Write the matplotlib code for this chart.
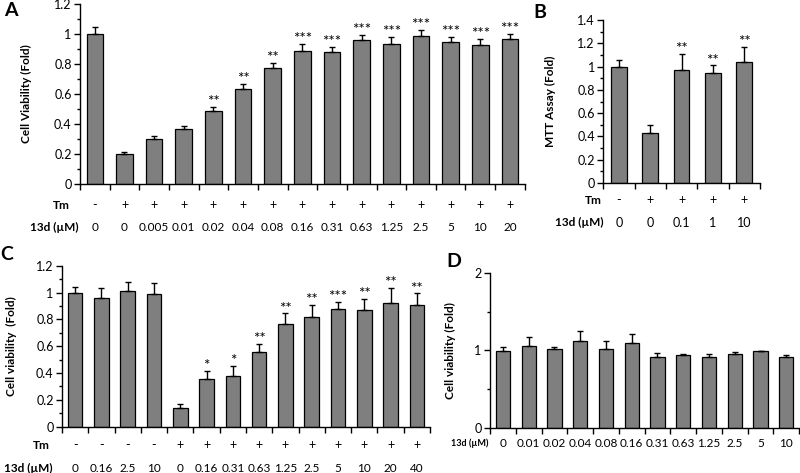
import matplotlib
matplotlib.use("Agg")
import matplotlib.pyplot as plt
from matplotlib.ticker import MultipleLocator, FixedLocator, NullFormatter

plt.rcParams["font.family"] = ["Lato", "DejaVu Sans"]

# panel A
a_tm = ["-"] + ["+"] * 14
a_dose = ["0", "0", "0.005", "0.01", "0.02", "0.04", "0.08", "0.16", "0.31",
          "0.63", "1.25", "2.5", "5", "10", "20"]
a_mean = [1.0, 0.20, 0.30, 0.37, 0.485, 0.635, 0.775, 0.885, 0.88, 0.958,
          0.934, 0.988, 0.945, 0.929, 0.965]
a_err = [0.044, 0.011, 0.017, 0.018, 0.031, 0.031, 0.033, 0.049, 0.031, 0.038,
         0.044, 0.037, 0.037, 0.038, 0.036]
a_sig = ["", "", "", "", "**", "**", "**", "***", "***", "***", "***", "***",
         "***", "***", "***"]

# panel B
b_tm = ["-", "+", "+", "+", "+"]
b_dose = ["0", "0", "0.1", "1", "10"]
b_mean = [1.0, 0.43, 0.97, 0.947, 1.04]
b_err = [0.057, 0.071, 0.135, 0.063, 0.125]
b_sig = ["", "", "**", "**", "**"]

# panel C
c_tm = ["-"] * 4 + ["+"] * 10
c_dose = ["0", "0.16", "2.5", "10", "0", "0.16", "0.31", "0.63", "1.25", "2.5",
          "5", "10", "20", "40"]
c_mean = [1.0, 0.96, 1.012, 0.99, 0.136, 0.355, 0.375, 0.558, 0.762, 0.816,
          0.878, 0.868, 0.92, 0.906]
c_err = [0.042, 0.07, 0.068, 0.08, 0.03, 0.062, 0.079, 0.06, 0.082, 0.09,
         0.052, 0.085, 0.115, 0.087]
c_sig = ["", "", "", "", "", "*", "*", "**", "**", "**", "***", "**", "**", "**"]

# panel D
d_dose = ["0", "0.01", "0.02", "0.04", "0.08", "0.16", "0.31", "0.63", "1.25",
          "2.5", "5", "10"]
d_mean = [0.998, 1.062, 1.024, 1.122, 1.024, 1.096, 0.921, 0.934, 0.921,
          0.955, 0.99, 0.912]
d_err = [0.042, 0.116, 0.021, 0.128, 0.098, 0.12, 0.047, 0.021, 0.034,
         0.021, 0.0, 0.022]

BAR_COLOR = "#7f7f7f"
FS = 9


def style_axis(ax, n, ymax, major, minor, ylabel, label_x):
    ax.set_xlim(-0.5, n - 0.5)
    ax.set_ylim(0, ymax)
    for s in ["top", "right"]:
        ax.spines[s].set_visible(False)
    for s in ["left", "bottom"]:
        ax.spines[s].set_linewidth(1.0)
    ax.yaxis.set_major_locator(MultipleLocator(major))
    ax.yaxis.set_minor_locator(MultipleLocator(minor))
    ax.yaxis.set_minor_formatter(NullFormatter())
    ax.tick_params(axis="y", which="major", direction="out", length=4,
                   width=1, labelsize=FS, pad=2)
    ax.tick_params(axis="y", which="minor", direction="out", length=2.5,
                   width=1)
    ax.xaxis.set_major_locator(FixedLocator([i - 0.5 for i in range(n + 1)]))
    ax.xaxis.set_major_formatter(NullFormatter())
    ax.tick_params(axis="x", which="major", direction="out", length=4, width=1)
    ax.set_ylabel(ylabel, fontsize=8.5, fontweight="bold")
    ax.yaxis.set_label_coords(label_x, 0.5)


def draw_bars(ax, mean, err, sig=None, width=0.55, star_off=-1.5):
    x = list(range(len(mean)))
    ax.bar(x, mean, width=width, color=BAR_COLOR, edgecolor="black",
           linewidth=0.9, zorder=2)
    ax.errorbar(x, mean, yerr=[[0] * len(err), err], fmt="none",
                ecolor="black", elinewidth=1, capsize=2.5, capthick=1,
                zorder=3)
    if sig:
        for i, s in enumerate(sig):
            if s:
                ax.annotate(s, (i, mean[i] + err[i]), xytext=(0, star_off),
                            textcoords="offset points", ha="center",
                            va="bottom", fontsize=11)


def draw_row(ax, labels, y, title, title_x, title_fs=8.5, fs=FS):
    trans = ax.get_xaxis_transform()
    for i, lab in enumerate(labels):
        ax.text(i, y, lab, transform=trans, ha="center", va="center",
                fontsize=fs, clip_on=False)
    ax.text(title_x, y, title, transform=ax.transAxes, ha="right",
            va="center", fontsize=title_fs, fontweight="bold", clip_on=False)


fig = plt.figure(figsize=(8, 4.73), dpi=100)

ax_a = fig.add_axes([0.1, 0.611, 0.556, 0.3805])
ax_b = fig.add_axes([0.754, 0.613, 0.196, 0.3446])
ax_c = fig.add_axes([0.0775, 0.0979, 0.46, 0.3404])
ax_d = fig.add_axes([0.6125, 0.0951, 0.3865, 0.3283])

# A
draw_bars(ax_a, a_mean, a_err, a_sig, width=0.56)
style_axis(ax_a, len(a_mean), 1.2, 0.2, 0.1, "Cell Viability (Fold)", -0.108)
ax_a.set_yticks([0, 0.2, 0.4, 0.6, 0.8, 1.0, 1.2])
ax_a.set_yticklabels(["0", "0.2", "0.4", "0.6", "0.8", "1", "1.2"])
draw_row(ax_a, a_tm, -0.117, "Tm", -0.022)
draw_row(ax_a, a_dose, -0.244, "13d (\u00b5M)", -0.004, fs=8.5)

# B
draw_bars(ax_b, b_mean, b_err, b_sig, width=0.5)
style_axis(ax_b, len(b_mean), 1.4, 0.2, 0.1, "MTT Assay (Fold)", -0.30)
ax_b.set_yticks([0, 0.2, 0.4, 0.6, 0.8, 1.0, 1.2, 1.4])
ax_b.set_yticklabels(["0", "0.2", "0.4", "0.6", "0.8", "1", "1.2", "1.4"])
draw_row(ax_b, b_tm, -0.104, "Tm", -0.01)
draw_row(ax_b, b_dose, -0.243, "13d (\u00b5M)", 0.0)

# C
draw_bars(ax_c, c_mean, c_err, c_sig, width=0.55)
style_axis(ax_c, len(c_mean), 1.2, 0.2, 0.1, "Cell viability  (Fold)", -0.122)
ax_c.set_yticks([0, 0.2, 0.4, 0.6, 0.8, 1.0, 1.2])
ax_c.set_yticklabels(["0", "0.2", "0.4", "0.6", "0.8", "1", "1.2"])
draw_row(ax_c, c_tm, -0.114, "Tm", -0.033)
draw_row(ax_c, c_dose, -0.257, "13d (\u00b5M)", -0.025, fs=8.5)

# D
draw_bars(ax_d, d_mean, d_err, width=0.55)
style_axis(ax_d, len(d_mean), 2, 1, 0.5, "Cell viability (Fold)", -0.11)
ax_d.set_yticks([0, 1, 2])
draw_row(ax_d, d_dose, -0.097, "13d (\u00b5M)", -0.006, title_fs=6.5, fs=8.5)

# panel letters
for lab, (px, py) in zip("ABCD", [(11, 11), (540, 12), (7, 254), (454, 261)]):
    fig.text(px / 800, 1 - py / 473, lab, fontsize=14, fontweight="bold",
             ha="center", va="center")

fig.savefig("out.png", dpi=100)
